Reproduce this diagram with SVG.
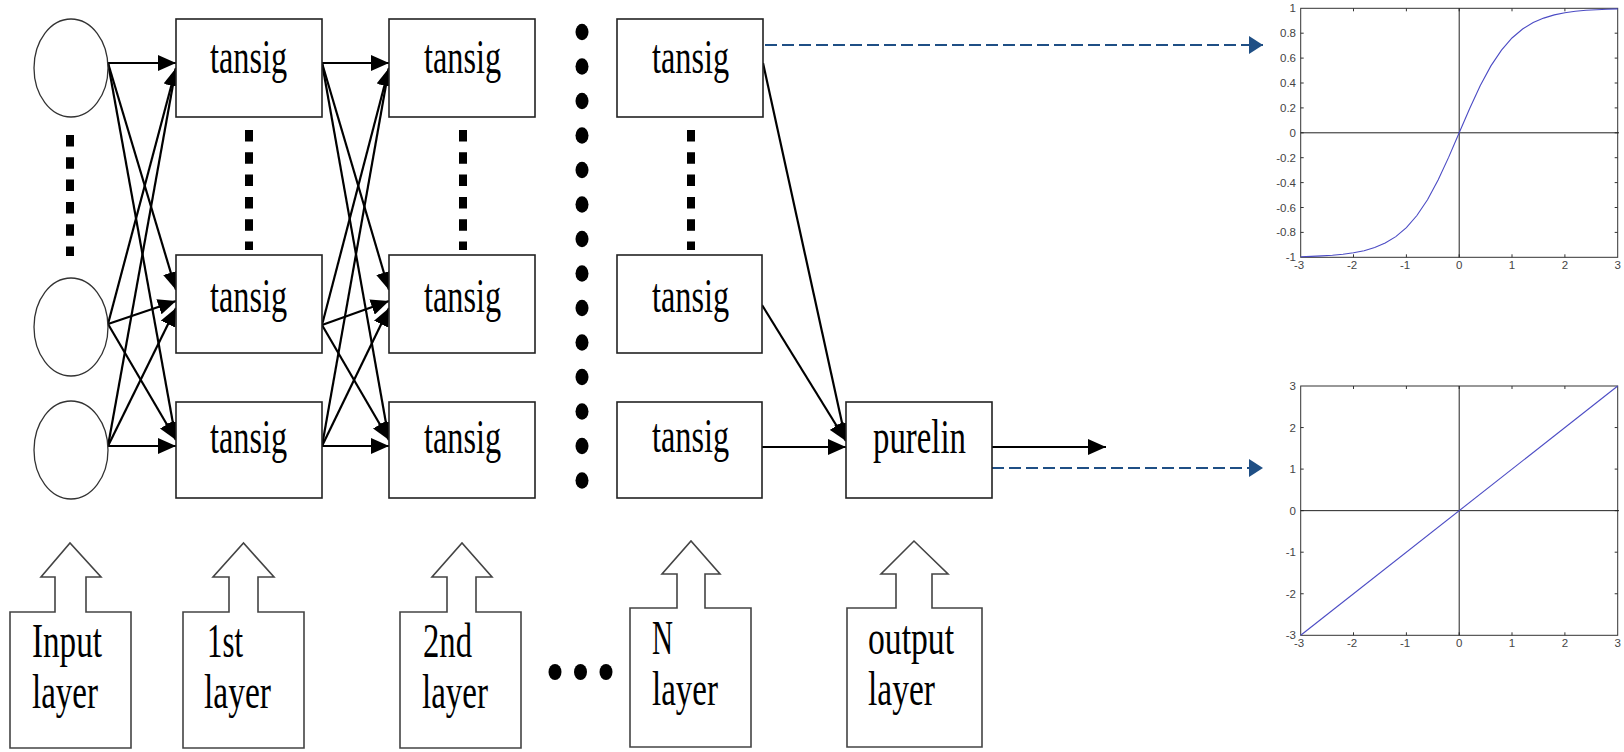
<svg xmlns="http://www.w3.org/2000/svg" width="1624" height="752" viewBox="0 0 1624 752">
  <style>
    .box { fill: #fff; stroke: #222; stroke-width: 1.6; }
    .neuron { fill: #fff; stroke: #333; stroke-width: 1.3; }
    .tag { fill: #fff; stroke: #444; stroke-width: 1.6; stroke-linejoin: miter; }
    .lbl { font-family: "Liberation Serif", "Times New Roman", serif; font-size: 48px; fill: #000; }
    .edge { stroke: #000; stroke-width: 2.2; fill: none; marker-end: url(#ah); }
    .dots { stroke: #000; stroke-width: 8; fill: none; }
    .blue { stroke: #1f4f85; stroke-width: 2; stroke-dasharray: 12 5; fill: none; marker-end: url(#bh); }
    .frame { fill: #fff; stroke: #333; stroke-width: 1; }
    .axis { stroke: #222; stroke-width: 1; fill: none; }
    .tick { stroke: #333; stroke-width: 1; fill: none; }
    .curve { stroke: #4b4bc4; stroke-width: 1.1; fill: none; }
    .num { font-family: "Liberation Sans", Arial, sans-serif; font-size: 11.5px; fill: #444; }
  </style>
  <defs>
    <marker id="ah" markerUnits="userSpaceOnUse" markerWidth="18" markerHeight="16" refX="18" refY="8" orient="auto">
      <path d="M0,0 L18,8 L0,16 z" fill="#000"/>
    </marker>
    <marker id="bh" markerUnits="userSpaceOnUse" markerWidth="14" markerHeight="18" refX="14" refY="9" orient="auto">
      <path d="M0,0 L14,9 L0,18 z" fill="#1f4f85"/>
    </marker>
  </defs>
  <rect width="1624" height="752" fill="#fff"/>

  <!-- connectors -->
  <g id="connectors">
    <!-- input layer to 1st layer -->
    <line class="edge" x1="108" y1="63" x2="176" y2="63"/>
    <line class="edge" x1="108" y1="63" x2="176" y2="290"/>
    <line class="edge" x1="108" y1="63" x2="176" y2="440"/>
    <line class="edge" x1="108" y1="324" x2="176" y2="68"/>
    <line class="edge" x1="108" y1="324" x2="176" y2="301"/>
    <line class="edge" x1="108" y1="324" x2="176" y2="440"/>
    <line class="edge" x1="108" y1="446" x2="176" y2="68"/>
    <line class="edge" x1="108" y1="446" x2="176" y2="308"/>
    <line class="edge" x1="108" y1="446" x2="176" y2="446"/>
    <!-- 1st layer to 2nd layer -->
    <line class="edge" x1="322" y1="63" x2="389" y2="63"/>
    <line class="edge" x1="322" y1="63" x2="389" y2="290"/>
    <line class="edge" x1="322" y1="63" x2="389" y2="440"/>
    <line class="edge" x1="322" y1="325" x2="389" y2="68"/>
    <line class="edge" x1="322" y1="325" x2="389" y2="301"/>
    <line class="edge" x1="322" y1="325" x2="389" y2="440"/>
    <line class="edge" x1="322" y1="446" x2="389" y2="68"/>
    <line class="edge" x1="322" y1="446" x2="389" y2="308"/>
    <line class="edge" x1="322" y1="446" x2="389" y2="446"/>
    <!-- N layer to output -->
    <line class="edge" x1="763" y1="63" x2="846" y2="441"/>
    <line class="edge" x1="762" y1="305" x2="846" y2="441"/>
    <line class="edge" x1="762" y1="447" x2="846" y2="447"/>
    <line class="edge" x1="992" y1="447" x2="1106" y2="447"/>
    <!-- links to transfer function plots -->
    <line class="blue" x1="748" y1="45" x2="1263" y2="45"/>
    <line class="blue" x1="992" y1="468" x2="1263" y2="468"/>
  </g>

  <!-- elision marks -->
  <g id="ellipsis">
    <line class="dots" x1="70" y1="135" x2="70" y2="256" stroke-dasharray="11.5 10.8"/>
    <line class="dots" x1="249" y1="130" x2="249" y2="250" stroke-dasharray="11.5 10.8"/>
    <line class="dots" x1="463" y1="130" x2="463" y2="250" stroke-dasharray="11.5 10.8"/>
    <line class="dots" x1="691" y1="130" x2="691" y2="250" stroke-dasharray="11.5 10.8"/>
    <g fill="#000">
      <ellipse cx="582" cy="32" rx="6.5" ry="8.3"/>
      <ellipse cx="582" cy="66.5" rx="6.5" ry="8.3"/>
      <ellipse cx="582" cy="101" rx="6.5" ry="8.3"/>
      <ellipse cx="582" cy="135.5" rx="6.5" ry="8.3"/>
      <ellipse cx="582" cy="170" rx="6.5" ry="8.3"/>
      <ellipse cx="582" cy="204.5" rx="6.5" ry="8.3"/>
      <ellipse cx="582" cy="239" rx="6.5" ry="8.3"/>
      <ellipse cx="582" cy="273.5" rx="6.5" ry="8.3"/>
      <ellipse cx="582" cy="308" rx="6.5" ry="8.3"/>
      <ellipse cx="582" cy="342.5" rx="6.5" ry="8.3"/>
      <ellipse cx="582" cy="377" rx="6.5" ry="8.3"/>
      <ellipse cx="582" cy="411.5" rx="6.5" ry="8.3"/>
      <ellipse cx="582" cy="446" rx="6.5" ry="8.3"/>
      <ellipse cx="582" cy="480.5" rx="6.5" ry="8.3"/>
      <ellipse cx="555" cy="672" rx="6.5" ry="8"/>
      <ellipse cx="580.5" cy="672" rx="6.5" ry="8"/>
      <ellipse cx="606" cy="672" rx="6.5" ry="8"/>
    </g>
  </g>

  <!-- input neurons -->
  <g id="in1"><ellipse class="neuron" cx="71" cy="68" rx="37" ry="49"/></g>
  <g id="in2"><ellipse class="neuron" cx="71" cy="327" rx="37" ry="49"/></g>
  <g id="in3"><ellipse class="neuron" cx="71" cy="450" rx="37" ry="49"/></g>

  <!-- 1st layer -->
  <g id="l1a"><rect class="box" x="176" y="19" width="146" height="98"/><text class="lbl" x="210" y="73" textLength="77" lengthAdjust="spacingAndGlyphs">tansig</text></g>
  <g id="l1b"><rect class="box" x="176" y="255" width="146" height="98"/><text class="lbl" x="210" y="312" textLength="77" lengthAdjust="spacingAndGlyphs">tansig</text></g>
  <g id="l1c"><rect class="box" x="176" y="402" width="146" height="96"/><text class="lbl" x="210" y="453" textLength="77" lengthAdjust="spacingAndGlyphs">tansig</text></g>

  <!-- 2nd layer -->
  <g id="l2a"><rect class="box" x="389" y="19" width="146" height="98"/><text class="lbl" x="424" y="73" textLength="77" lengthAdjust="spacingAndGlyphs">tansig</text></g>
  <g id="l2b"><rect class="box" x="389" y="255" width="146" height="98"/><text class="lbl" x="424" y="312" textLength="77" lengthAdjust="spacingAndGlyphs">tansig</text></g>
  <g id="l2c"><rect class="box" x="389" y="402" width="146" height="96"/><text class="lbl" x="424" y="453" textLength="77" lengthAdjust="spacingAndGlyphs">tansig</text></g>

  <!-- N layer -->
  <g id="lna"><rect class="box" x="617" y="19" width="146" height="98"/><text class="lbl" x="652" y="73" textLength="77" lengthAdjust="spacingAndGlyphs">tansig</text></g>
  <g id="lnb"><rect class="box" x="617" y="255" width="145" height="98"/><text class="lbl" x="652" y="312" textLength="77" lengthAdjust="spacingAndGlyphs">tansig</text></g>
  <g id="lnc"><rect class="box" x="617" y="402" width="145" height="96"/><text class="lbl" x="652" y="452" textLength="77" lengthAdjust="spacingAndGlyphs">tansig</text></g>

  <!-- output layer -->
  <g id="out"><rect class="box" x="846" y="402" width="146" height="96"/><text class="lbl" x="873" y="453" textLength="93" lengthAdjust="spacingAndGlyphs">purelin</text></g>

  <!-- layer captions -->
  <g id="cap-input">
    <path class="tag" d="M10,748 L10,612 L55,612 L55,577 L41,577 L70,543 L101,577 L86,577 L86,612 L131,612 L131,748 Z"/>
    <text class="lbl" x="32" y="657" textLength="70" lengthAdjust="spacingAndGlyphs">Input</text>
    <text class="lbl" x="32" y="708" textLength="66" lengthAdjust="spacingAndGlyphs">layer</text>
  </g>
  <g id="cap-1st">
    <path class="tag" d="M183,748 L183,612 L229,612 L229,577 L213,577 L243.5,543 L274,577 L258,577 L258,612 L304,612 L304,748 Z"/>
    <text class="lbl" x="207" y="657" textLength="36" lengthAdjust="spacingAndGlyphs">1st</text>
    <text class="lbl" x="204" y="708" textLength="67" lengthAdjust="spacingAndGlyphs">layer</text>
  </g>
  <g id="cap-2nd">
    <path class="tag" d="M400,748 L400,612 L447,612 L447,577 L432,577 L462,543 L492,577 L476,577 L476,612 L521,612 L521,748 Z"/>
    <text class="lbl" x="423" y="657" textLength="49" lengthAdjust="spacingAndGlyphs">2nd</text>
    <text class="lbl" x="422" y="708" textLength="66" lengthAdjust="spacingAndGlyphs">layer</text>
  </g>
  <g id="cap-n">
    <path class="tag" d="M630,747 L630,608 L677,608 L677,574 L662,574 L691,541 L720,574 L705,574 L705,608 L751,608 L751,747 Z"/>
    <text class="lbl" x="652" y="654" textLength="21" lengthAdjust="spacingAndGlyphs">N</text>
    <text class="lbl" x="652" y="705" textLength="66" lengthAdjust="spacingAndGlyphs">layer</text>
  </g>
  <g id="cap-output">
    <path class="tag" d="M847,747 L847,608 L896,608 L896,574 L881,574 L914,541 L948,574 L932,574 L932,608 L982,608 L982,747 Z"/>
    <text class="lbl" x="868" y="654" textLength="86" lengthAdjust="spacingAndGlyphs">output</text>
    <text class="lbl" x="868" y="705" textLength="67" lengthAdjust="spacingAndGlyphs">layer</text>
  </g>

  <!-- tansig transfer function plot -->
  <g id="plot-tansig">
    <rect class="frame" x="1300.7" y="8.3" width="317" height="249"/>
    <path class="tick" d="M1353.5,8.3v3M1406.4,8.3v3M1459.2,8.3v3M1512,8.3v3M1564.9,8.3v3M1353.5,257.3v-3M1406.4,257.3v-3M1459.2,257.3v-3M1512,257.3v-3M1564.9,257.3v-3M1300.7,33.2h3M1300.7,58.1h3M1300.7,83h3M1300.7,107.9h3M1300.7,132.8h3M1300.7,157.7h3M1300.7,182.6h3M1300.7,207.5h3M1300.7,232.4h3M1617.7,33.2h-3M1617.7,58.1h-3M1617.7,83h-3M1617.7,107.9h-3M1617.7,132.8h-3M1617.7,157.7h-3M1617.7,182.6h-3M1617.7,207.5h-3M1617.7,232.4h-3"/>
    <path class="axis" d="M1300.7,132.8H1619M1459.2,8.3V257.3"/>
    <polyline class="curve" points="1300.7,256.7 1311.3,256.4 1321.8,255.9 1332.4,255.3 1343,254.3 1353.5,252.8 1364.1,250.7 1374.7,247.6 1385.2,243 1395.8,236.6 1406.4,227.6 1416.9,215.5 1427.5,199.7 1438.1,180.1 1448.6,157.4 1459.2,132.8 1469.8,108.2 1480.3,85.5 1490.9,65.9 1501.5,50.1 1512,38 1522.6,29 1533.2,22.6 1543.7,18.1 1554.3,14.9 1564.9,12.8 1575.4,11.3 1586,10.3 1596.6,9.7 1607.1,9.2 1617.7,8.9"/>
    <g class="num" text-anchor="end">
      <text x="1296" y="12.3">1</text>
      <text x="1296" y="37.2">0.8</text>
      <text x="1296" y="62.1">0.6</text>
      <text x="1296" y="87">0.4</text>
      <text x="1296" y="111.9">0.2</text>
      <text x="1296" y="136.8">0</text>
      <text x="1296" y="161.7">-0.2</text>
      <text x="1296" y="186.6">-0.4</text>
      <text x="1296" y="211.5">-0.6</text>
      <text x="1296" y="236.4">-0.8</text>
      <text x="1296" y="261.3">-1</text>
    </g>
    <g class="num" text-anchor="middle">
      <text x="1299" y="269">-3</text>
      <text x="1352" y="269">-2</text>
      <text x="1405" y="269">-1</text>
      <text x="1459.2" y="269">0</text>
      <text x="1512" y="269">1</text>
      <text x="1564.9" y="269">2</text>
      <text x="1617.7" y="269">3</text>
    </g>
  </g>

  <!-- purelin transfer function plot -->
  <g id="plot-purelin">
    <rect class="frame" x="1300.7" y="386" width="317" height="249.3"/>
    <path class="tick" d="M1353.5,386v3M1406.4,386v3M1459.2,386v3M1512,386v3M1564.9,386v3M1353.5,635.3v-3M1406.4,635.3v-3M1459.2,635.3v-3M1512,635.3v-3M1564.9,635.3v-3M1300.7,427.55h3M1300.7,469.1h3M1300.7,510.65h3M1300.7,552.2h3M1300.7,593.75h3M1617.7,427.55h-3M1617.7,469.1h-3M1617.7,510.65h-3M1617.7,552.2h-3M1617.7,593.75h-3"/>
    <path class="axis" d="M1300.7,510.65H1619M1459.2,386V635.3"/>
    <line class="curve" x1="1300.7" y1="635.3" x2="1617.7" y2="386"/>
    <g class="num" text-anchor="end">
      <text x="1296" y="390">3</text>
      <text x="1296" y="431.5">2</text>
      <text x="1296" y="473.1">1</text>
      <text x="1296" y="514.6">0</text>
      <text x="1296" y="556.2">-1</text>
      <text x="1296" y="597.7">-2</text>
      <text x="1296" y="639.3">-3</text>
    </g>
    <g class="num" text-anchor="middle">
      <text x="1299" y="647">-3</text>
      <text x="1352" y="647">-2</text>
      <text x="1405" y="647">-1</text>
      <text x="1459.2" y="647">0</text>
      <text x="1512" y="647">1</text>
      <text x="1564.9" y="647">2</text>
      <text x="1617.7" y="647">3</text>
    </g>
  </g>
</svg>
